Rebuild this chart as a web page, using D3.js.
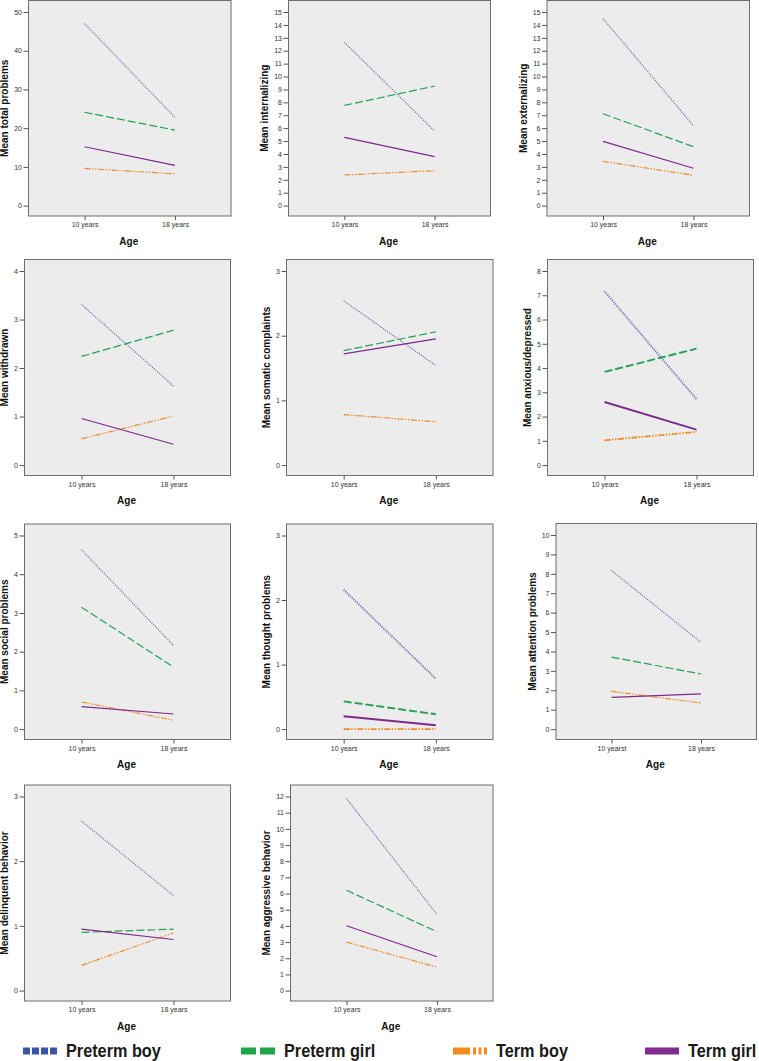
<!DOCTYPE html>
<html>
<head>
<meta charset="utf-8">
<script src="https://cdn.jsdelivr.net/npm/d3@7"></script>
<style>
  html, body { margin: 0; padding: 0; background: #ffffff; }
  svg { display: block; }
</style>
</head>
<body>
<div id="chart"></div>
<script>
// ---------------- DATA ----------------
const ageLabels = ["10 years", "18 years"];
const attentionAgeLabels = ["10 yearst", "18 years"];
const seriesNames = ["Preterm boy", "Preterm girl", "Term boy", "Term girl"];

const panelTitles = [
  "Mean total problems", "Mean internalizing", "Mean externalizing",
  "Mean withdrawn", "Mean somatic complaints", "Mean anxious/depressed",
  "Mean social problems", "Mean thought problems", "Mean attention problems",
  "Mean delinquent behavior", "Mean aggressive behavior"
];

// y tick maxima and steps
const yTickMax  = [50, 15, 15, 4, 3, 8, 5, 3, 10, 3, 12];
const yTickStep = [10, 1, 1, 1, 1, 1, 1, 1, 1, 1, 1];

// values per panel: [10 years, 18 years]
const pretermBoy = [
  [47.0, 22.8], [12.64, 5.78], [14.49, 6.19], [3.31, 1.63], [2.54, 1.54],
  [7.16, 2.72], [4.63, 2.16], [2.16, 0.78], [8.17, 4.47], [2.62, 1.47], [11.87, 4.71]
];
const pretermGirl = [
  [24.1, 19.5], [7.76, 9.26], [7.12, 4.56], [2.24, 2.78], [1.77, 2.06],
  [3.84, 4.80], [3.15, 1.60], [0.43, 0.23], [3.71, 2.84], [0.90, 0.95], [6.20, 3.64]
];
const termBoy = [
  [9.6, 8.2], [2.37, 2.71], [3.43, 2.35], [0.54, 1.01], [0.78, 0.67],
  [1.02, 1.37], [0.70, 0.23], [0.0, 0.0], [1.94, 1.35], [0.39, 0.89], [3.00, 1.45]
];
const termGirl = [
  [15.2, 10.4], [5.29, 3.79], [4.98, 2.89], [0.96, 0.43], [1.72, 1.95],
  [2.60, 1.46], [0.58, 0.39], [0.20, 0.06], [1.63, 1.81], [0.95, 0.79], [4.01, 2.09]
];

// ---------------- LAYOUT / STYLE ----------------
const W = 759, H = 1061;
const frames = [
  {l: 28.5, r: 231, t: 0.5, b: 216},
  {l: 288.5, r: 490.5, t: 0.5, b: 216},
  {l: 547, r: 749.5, t: 0.5, b: 216},
  {l: 24.5, r: 230.5, t: 259.5, b: 475.5},
  {l: 286.5, r: 493, t: 259.5, b: 475.5},
  {l: 547.5, r: 753.5, t: 259.5, b: 475.5},
  {l: 24.5, r: 230.5, t: 524, b: 739.5},
  {l: 286.5, r: 493, t: 524, b: 739.5},
  {l: 556, r: 756.5, t: 523.5, b: 739.5},
  {l: 24.5, r: 230.5, t: 785, b: 1001},
  {l: 290.5, r: 493, t: 785, b: 1001}
];
const thickPanels = new Set([5, 7]);

const styles = [
  {color: "#5060ad", dash: "1,1.3"},
  {color: "#22a352", dash: "8,3"},
  {color: "#f28c28", dash: "6,1.5,1.5,1.5,1.5,1.5"},
  {color: "#7d2a8c", dash: null}
];
const legendColors = ["#3a55a6", "#1fa64b", "#f38b20", "#7f2b8f"];

const FONT = "'Liberation Sans', Arial, Helvetica, sans-serif";

const svg = d3.select("#chart").append("svg")
  .attr("width", W).attr("height", H)
  .attr("viewBox", `0 0 ${W} ${H}`);

const allSeries = [pretermBoy, pretermGirl, termBoy, termGirl];

frames.forEach((f, i) => {
  const g = svg.append("g");
  const labels = i === 8 ? attentionAgeLabels : ageLabels;

  const x = d3.scalePoint().domain(labels).range([f.l, f.r]).padding(0.62);
  const y = d3.scaleLinear().domain([0, yTickMax[i]]).range([f.b - 10.4, f.t + 11.5]);

  // background
  g.append("rect")
    .attr("x", f.l).attr("y", f.t)
    .attr("width", f.r - f.l).attr("height", f.b - f.t)
    .attr("fill", "#ececec");

  // lines
  const lineGen = d3.line().x(d => x(d.age)).y(d => y(d.v));
  allSeries.forEach((s, k) => {
    const pts = labels.map((a, j) => ({age: a, v: s[i][j]}));
    g.append("path")
      .attr("d", lineGen(pts))
      .attr("fill", "none")
      .attr("stroke", styles[k].color)
      .attr("stroke-width", thickPanels.has(i) ? 1.9 : 1.2)
      .attr("stroke-dasharray", styles[k].dash);
  });

  // frame
  g.append("rect")
    .attr("x", f.l).attr("y", f.t)
    .attr("width", f.r - f.l).attr("height", f.b - f.t)
    .attr("fill", "none")
    .attr("stroke", "#6e6e6e").attr("stroke-width", 1);

  // y axis
  const ticks = d3.range(0, yTickMax[i] + yTickStep[i] / 2, yTickStep[i]);
  const ya = g.append("g")
    .attr("transform", `translate(${f.l},0)`)
    .call(d3.axisLeft(y).tickValues(ticks).tickSize(5).tickPadding(1.5).tickFormat(d3.format("d")));
  ya.select(".domain").remove();
  ya.selectAll(".tick line").attr("stroke", "#555");
  ya.selectAll(".tick text").attr("fill", "#333").style("font-family", FONT).style("font-size", "7px");

  // x axis
  const xa = g.append("g")
    .attr("transform", `translate(0,${f.b})`)
    .call(d3.axisBottom(x).tickSize(4).tickPadding(2.5));
  xa.select(".domain").remove();
  xa.selectAll(".tick line").attr("stroke", "#555");
  xa.selectAll(".tick text").attr("fill", "#333").style("font-family", FONT).style("font-size", "7px");

  // x title
  g.append("text")
    .attr("x", (f.l + f.r) / 2 - 1)
    .attr("y", f.b + 28.7)
    .attr("text-anchor", "middle")
    .style("font-family", FONT).style("font-weight", "bold").style("font-size", "10px")
    .attr("fill", "#111")
    .text("Age");

  // y title
  const bb = ya.node().getBBox();
  const tx = f.l + bb.x - 6.2;
  g.append("text")
    .attr("transform", `translate(${tx},${(f.t + f.b) / 2}) rotate(-90)`)
    .attr("text-anchor", "middle")
    .style("font-family", FONT).style("font-weight", "bold").style("font-size", "10px")
    .attr("fill", "#111")
    .text(panelTitles[i]);
});

// ---------------- LEGEND ----------------
const legendX = [23, 241, 453, 645];
const swW = 34, swY = 1051, swH = 7;
const lg = svg.append("g");
seriesNames.forEach((name, k) => {
  const x0 = legendX[k];
  const c = legendColors[k];
  let segs;
  if (k === 0) segs = [[0, 7], [9, 16], [18, 25], [27, 34]];
  else if (k === 1) segs = [[0, 15], [19, 34]];
  else if (k === 2) segs = [[0, 17], [20, 23], [25.5, 28.5], [31, 34]];
  else segs = [[0, 34]];
  segs.forEach(s => {
    lg.append("rect")
      .attr("x", x0 + s[0]).attr("y", swY - swH / 2)
      .attr("width", s[1] - s[0]).attr("height", swH)
      .attr("fill", c);
  });
  lg.append("text")
    .attr("transform", `translate(${x0 + swW + 9},${swY + 5.6}) scale(0.93,1)`)
    .style("font-family", FONT)
    .style("font-weight", "bold").style("font-size", "17.5px")
    .attr("fill", "#1a1a1a")
    .text(name);
});
</script>
</body>
</html>
